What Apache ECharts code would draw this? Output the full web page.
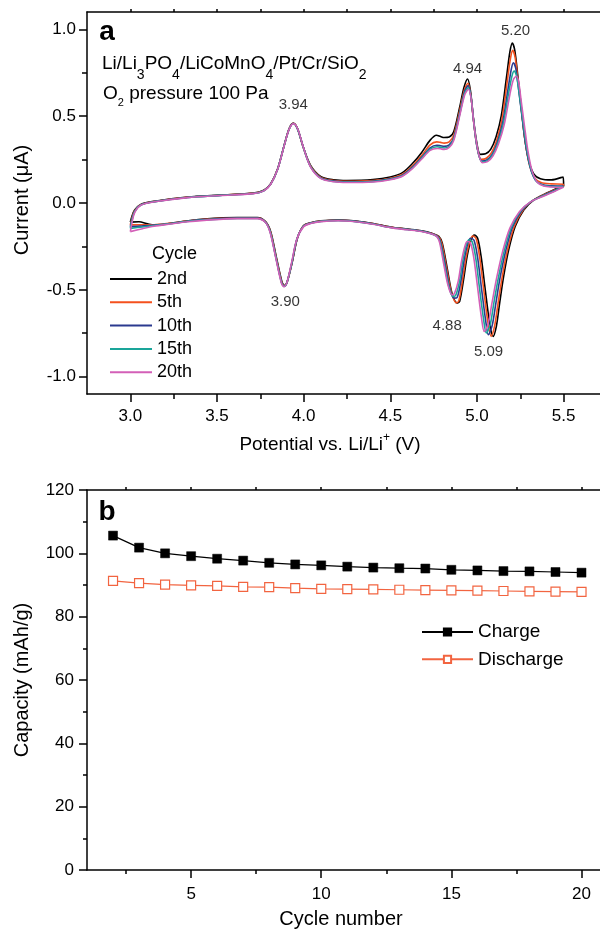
<!DOCTYPE html>
<html>
<head>
<meta charset="utf-8">
<script src="https://cdn.jsdelivr.net/npm/echarts@6/dist/echarts.min.js"></script>
<style>
  html, body { margin: 0; padding: 0; background: #fff; }
  #chart { width: 600px; height: 933px; }
</style>
</head>
<body>
<div id="chart"></div>
<script>
// ---- Panel a: cyclic voltammograms, [potential V, current µA] ----
const cycleNames = ['2nd', '5th', '10th', '15th', '20th'];
const cycleColors = ['#000000', '#f4511e', '#2b3a8f', '#1aa59a', '#d35fb7'];

const anodic2nd = [[3.00,-0.110],[3.01,-0.075],[3.025,-0.040],[3.06,-0.008],[3.14,0.010],[3.33,0.034],[3.52,0.046],[3.71,0.057],[3.77,0.073],[3.81,0.111],[3.85,0.197],[3.887,0.330],[3.916,0.427],[3.94,0.460],[3.965,0.427],[3.995,0.330],[4.04,0.217],[4.10,0.152],[4.175,0.134],[4.25,0.130],[4.40,0.135],[4.50,0.150],[4.57,0.175],[4.63,0.230],[4.68,0.290],[4.73,0.362],[4.766,0.390],[4.79,0.383],[4.81,0.377],[4.84,0.380],[4.866,0.410],[4.90,0.550],[4.925,0.665],[4.946,0.714],[4.962,0.650],[4.976,0.520],[4.996,0.365],[5.02,0.280],[5.05,0.283],[5.08,0.310],[5.11,0.380],[5.14,0.500],[5.17,0.720],[5.19,0.870],[5.204,0.921],[5.218,0.880],[5.235,0.740],[5.255,0.560],[5.275,0.380],[5.30,0.240],[5.33,0.165],[5.366,0.140],[5.43,0.133],[5.497,0.150]];
const cathodic2nd = [[5.50,0.100],[5.45,0.080],[5.40,0.056],[5.327,0.017],[5.27,-0.040],[5.22,-0.136],[5.183,-0.270],[5.154,-0.423],[5.131,-0.576],[5.112,-0.710],[5.093,-0.768],[5.073,-0.690],[5.048,-0.500],[5.024,-0.308],[5.004,-0.203],[4.985,-0.184],[4.966,-0.213],[4.943,-0.308],[4.923,-0.440],[4.900,-0.567],[4.885,-0.576],[4.856,-0.520],[4.830,-0.385],[4.800,-0.232],[4.780,-0.192],[4.74,-0.175],[4.68,-0.160],[4.60,-0.150],[4.50,-0.138],[4.40,-0.118],[4.30,-0.104],[4.20,-0.098],[4.10,-0.103],[4.04,-0.114],[4.00,-0.130],[3.964,-0.203],[3.935,-0.337],[3.906,-0.452],[3.890,-0.475],[3.875,-0.455],[3.840,-0.300],[3.810,-0.165],[3.780,-0.107],[3.733,-0.084],[3.617,-0.084],[3.425,-0.092],[3.33,-0.103],[3.233,-0.117],[3.15,-0.128],[3.10,-0.120],[3.05,-0.108],[3.00,-0.110]];

const anodic5th = [[3.00,-0.126],[3.01,-0.085],[3.025,-0.045],[3.06,-0.010],[3.14,0.009],[3.33,0.033],[3.52,0.045],[3.71,0.056],[3.77,0.072],[3.81,0.110],[3.85,0.196],[3.887,0.329],[3.916,0.426],[3.941,0.459],[3.966,0.425],[3.996,0.327],[4.04,0.213],[4.10,0.147],[4.175,0.129],[4.25,0.125],[4.40,0.129],[4.50,0.143],[4.57,0.166],[4.63,0.216],[4.68,0.272],[4.73,0.335],[4.768,0.352],[4.79,0.349],[4.81,0.345],[4.84,0.352],[4.866,0.390],[4.90,0.530],[4.927,0.650],[4.948,0.690],[4.964,0.625],[4.978,0.495],[4.998,0.340],[5.024,0.252],[5.054,0.258],[5.084,0.290],[5.114,0.360],[5.145,0.485],[5.174,0.695],[5.193,0.830],[5.206,0.879],[5.220,0.840],[5.237,0.705],[5.257,0.530],[5.278,0.355],[5.303,0.220],[5.333,0.145],[5.37,0.118],[5.43,0.110],[5.497,0.108]];
const cathodic5th = [[5.50,0.098],[5.45,0.077],[5.398,0.053],[5.323,0.015],[5.265,-0.042],[5.214,-0.138],[5.176,-0.272],[5.146,-0.424],[5.122,-0.577],[5.102,-0.708],[5.082,-0.768],[5.063,-0.686],[5.039,-0.497],[5.015,-0.308],[4.996,-0.207],[4.977,-0.190],[4.959,-0.220],[4.937,-0.314],[4.917,-0.442],[4.895,-0.565],[4.880,-0.574],[4.852,-0.512],[4.826,-0.380],[4.797,-0.232],[4.778,-0.193],[4.74,-0.176],[4.68,-0.161],[4.60,-0.151],[4.50,-0.139],[4.40,-0.119],[4.30,-0.105],[4.20,-0.099],[4.10,-0.104],[4.04,-0.115],[4.00,-0.131],[3.963,-0.205],[3.934,-0.339],[3.905,-0.454],[3.889,-0.477],[3.874,-0.457],[3.839,-0.302],[3.809,-0.166],[3.78,-0.108],[3.733,-0.085],[3.617,-0.085],[3.425,-0.094],[3.33,-0.104],[3.233,-0.116],[3.137,-0.125],[3.07,-0.125],[3.00,-0.126]];

const anodic10th = [[3.00,-0.136],[3.01,-0.092],[3.025,-0.048],[3.06,-0.011],[3.14,0.008],[3.33,0.032],[3.52,0.044],[3.71,0.055],[3.77,0.071],[3.81,0.109],[3.85,0.195],[3.887,0.328],[3.916,0.425],[3.941,0.458],[3.966,0.424],[3.997,0.325],[4.04,0.210],[4.10,0.144],[4.175,0.126],[4.25,0.122],[4.40,0.125],[4.50,0.139],[4.57,0.160],[4.63,0.208],[4.68,0.262],[4.73,0.318],[4.769,0.333],[4.79,0.330],[4.81,0.326],[4.84,0.335],[4.866,0.375],[4.90,0.515],[4.928,0.640],[4.949,0.676],[4.966,0.610],[4.980,0.480],[5.000,0.325],[5.027,0.242],[5.057,0.248],[5.088,0.280],[5.118,0.350],[5.150,0.470],[5.180,0.660],[5.198,0.770],[5.210,0.808],[5.224,0.775],[5.241,0.650],[5.261,0.490],[5.282,0.330],[5.307,0.205],[5.337,0.132],[5.375,0.106],[5.43,0.099],[5.497,0.097]];
const cathodic10th = [[5.50,0.095],[5.45,0.074],[5.395,0.049],[5.317,0.011],[5.258,-0.045],[5.205,-0.140],[5.166,-0.275],[5.134,-0.427],[5.109,-0.578],[5.088,-0.705],[5.066,-0.759],[5.050,-0.675],[5.026,-0.490],[5.003,-0.309],[4.983,-0.215],[4.964,-0.203],[4.948,-0.231],[4.927,-0.324],[4.908,-0.445],[4.885,-0.545],[4.868,-0.548],[4.844,-0.495],[4.820,-0.372],[4.792,-0.231],[4.775,-0.194],[4.74,-0.177],[4.68,-0.162],[4.60,-0.152],[4.50,-0.140],[4.40,-0.120],[4.30,-0.106],[4.20,-0.100],[4.10,-0.105],[4.04,-0.116],[4.00,-0.133],[3.962,-0.207],[3.933,-0.341],[3.904,-0.456],[3.888,-0.479],[3.873,-0.459],[3.838,-0.304],[3.808,-0.168],[3.78,-0.110],[3.733,-0.087],[3.617,-0.087],[3.425,-0.096],[3.33,-0.105],[3.233,-0.118],[3.137,-0.127],[3.07,-0.132],[3.00,-0.136]];

const anodic15th = [[3.00,-0.146],[3.01,-0.098],[3.025,-0.050],[3.06,-0.012],[3.14,0.008],[3.33,0.032],[3.52,0.044],[3.71,0.055],[3.77,0.071],[3.81,0.109],[3.85,0.195],[3.887,0.328],[3.916,0.425],[3.941,0.458],[3.966,0.424],[3.997,0.324],[4.04,0.209],[4.10,0.142],[4.175,0.124],[4.25,0.120],[4.40,0.123],[4.50,0.137],[4.57,0.157],[4.63,0.204],[4.68,0.257],[4.73,0.310],[4.770,0.324],[4.79,0.321],[4.81,0.317],[4.84,0.327],[4.866,0.368],[4.90,0.508],[4.929,0.632],[4.950,0.665],[4.967,0.600],[4.981,0.470],[5.002,0.318],[5.029,0.237],[5.059,0.243],[5.090,0.275],[5.121,0.345],[5.153,0.460],[5.184,0.640],[5.203,0.735],[5.215,0.760],[5.229,0.730],[5.246,0.615],[5.266,0.465],[5.287,0.315],[5.312,0.195],[5.342,0.126],[5.38,0.102],[5.43,0.095],[5.497,0.094]];
const cathodic15th = [[5.50,0.092],[5.45,0.071],[5.393,0.046],[5.312,0.008],[5.251,-0.048],[5.197,-0.143],[5.157,-0.278],[5.124,-0.429],[5.097,-0.579],[5.076,-0.702],[5.054,-0.749],[5.038,-0.668],[5.014,-0.485],[4.992,-0.310],[4.972,-0.222],[4.954,-0.212],[4.939,-0.241],[4.918,-0.332],[4.900,-0.448],[4.877,-0.533],[4.862,-0.538],[4.838,-0.482],[4.815,-0.366],[4.789,-0.231],[4.772,-0.195],[4.74,-0.178],[4.68,-0.163],[4.60,-0.153],[4.50,-0.141],[4.40,-0.121],[4.30,-0.107],[4.20,-0.101],[4.10,-0.106],[4.04,-0.117],[4.00,-0.134],[3.961,-0.208],[3.932,-0.343],[3.904,-0.458],[3.888,-0.481],[3.873,-0.461],[3.838,-0.305],[3.808,-0.170],[3.78,-0.111],[3.733,-0.089],[3.617,-0.089],[3.425,-0.098],[3.33,-0.106],[3.233,-0.119],[3.137,-0.130],[3.07,-0.138],[3.00,-0.146]];

const anodic20th = [[3.00,-0.165],[3.01,-0.110],[3.025,-0.055],[3.06,-0.013],[3.14,0.007],[3.33,0.031],[3.52,0.043],[3.71,0.054],[3.77,0.070],[3.81,0.108],[3.85,0.194],[3.887,0.327],[3.916,0.424],[3.942,0.457],[3.967,0.423],[3.998,0.322],[4.04,0.207],[4.10,0.140],[4.175,0.122],[4.25,0.118],[4.40,0.121],[4.50,0.134],[4.57,0.154],[4.63,0.200],[4.68,0.252],[4.73,0.303],[4.771,0.314],[4.79,0.312],[4.81,0.308],[4.84,0.320],[4.866,0.360],[4.90,0.500],[4.930,0.625],[4.951,0.655],[4.968,0.590],[4.982,0.460],[5.004,0.310],[5.031,0.232],[5.061,0.238],[5.092,0.270],[5.124,0.340],[5.157,0.450],[5.190,0.625],[5.210,0.710],[5.227,0.730],[5.240,0.700],[5.255,0.590],[5.274,0.445],[5.294,0.300],[5.318,0.185],[5.348,0.120],[5.385,0.098],[5.43,0.092],[5.497,0.090]];
const cathodic20th = [[5.50,0.090],[5.45,0.068],[5.39,0.042],[5.307,0.005],[5.245,-0.050],[5.19,-0.145],[5.148,-0.280],[5.114,-0.430],[5.086,-0.580],[5.064,-0.700],[5.042,-0.740],[5.026,-0.660],[5.003,-0.480],[4.981,-0.310],[4.962,-0.228],[4.944,-0.222],[4.930,-0.250],[4.910,-0.340],[4.892,-0.450],[4.870,-0.522],[4.856,-0.529],[4.832,-0.470],[4.810,-0.360],[4.785,-0.230],[4.770,-0.195],[4.74,-0.179],[4.68,-0.164],[4.60,-0.154],[4.50,-0.142],[4.40,-0.122],[4.30,-0.108],[4.20,-0.102],[4.10,-0.107],[4.04,-0.118],[4.00,-0.136],[3.960,-0.210],[3.930,-0.345],[3.903,-0.460],[3.887,-0.482],[3.872,-0.462],[3.837,-0.306],[3.807,-0.171],[3.78,-0.112],[3.733,-0.090],[3.617,-0.090],[3.425,-0.100],[3.33,-0.108],[3.233,-0.121],[3.137,-0.134],[3.07,-0.148],[3.00,-0.165]];

// Peak potentials and the current level where each value is written
const peakPotentials = [3.94, 4.94, 5.20, 3.90, 4.88, 5.09];
const peakLabelCurrents = [0.563, 0.772, 0.993, -0.567, -0.707, -0.860];
const peakLabelShift = [0, 1, 4, -1, -9, -4];

// Axis ticks of panel a
const potentialMajorTicks = [3.0, 3.5, 4.0, 4.5, 5.0, 5.5];
const potentialMinorTicks = [3.25, 3.75, 4.25, 4.75, 5.25];
const currentMajorTicks = [-1.0, -0.5, 0.0, 0.5, 1.0];
const currentMinorTicks = [-0.75, -0.25, 0.25, 0.75];

// ---- Panel b: capacity vs. cycle number ----
const cycleNumbers = [2,3,4,5,6,7,8,9,10,11,12,13,14,15,16,17,18,19,20];
const chargeCapacity = [105.6,101.8,100.0,99.1,98.3,97.7,97.0,96.5,96.2,95.8,95.5,95.3,95.2,94.8,94.6,94.4,94.3,94.1,93.9];
const dischargeCapacity = [91.3,90.6,90.1,89.9,89.7,89.4,89.3,89.0,88.8,88.7,88.6,88.5,88.4,88.3,88.2,88.1,88.0,87.9,87.8];
const cycleMajorTicks = [5, 10, 15, 20];
const cycleMinorTicks = [2.5, 7.5, 12.5, 17.5];

const FONT = '"Liberation Sans", Arial, Helvetica, sans-serif';
const AX = { color: '#000', width: 1.5 };

// Both panels run off the right edge of the page; the visible axis range ends there.
const potentialRange = [2.75, 5.71];
const cycleRange = [1, 20.71];

const cvBranches = [
  [anodic2nd, cathodic2nd],
  [anodic5th, cathodic5th],
  [anodic10th, cathodic10th],
  [anodic15th, cathodic15th],
  [anodic20th, cathodic20th]
];

const cvSeries = cycleNames.map((name, i) => ({
  name: name,
  type: 'line',
  xAxisIndex: 0,
  yAxisIndex: 0,
  data: cvBranches[i][0].concat(cvBranches[i][1]),
  smooth: 0.3,
  symbol: 'none',
  lineStyle: { color: cycleColors[i], width: 1.6 },
  itemStyle: { color: cycleColors[i] },
  z: 2 + i
}));

const peakSeries = {
  type: 'scatter',
  xAxisIndex: 0,
  yAxisIndex: 0,
  silent: true,
  symbolSize: 0,
  data: peakPotentials.map((v, i) => ({
    value: [v, peakLabelCurrents[i]],
    label: { offset: [peakLabelShift[i], 0] }
  })),
  label: {
    show: true,
    position: 'inside',
    formatter: p => p.value[0].toFixed(2),
    fontSize: 15,
    color: '#000',
    fontFamily: FONT
  },
  z: 10
};

function tickAxis(extra) {
  return Object.assign({
    type: 'value',
    axisLine: { show: false, onZero: false },
    axisTick: { show: true, lineStyle: AX },
    axisLabel: { show: false },
    splitLine: { show: false }
  }, extra);
}

const option = {
  animation: false,
  backgroundColor: '#fff',
  textStyle: { fontFamily: FONT, color: '#000' },
  grid: [
    { left: 87, top: 12, width: 513, height: 382 },
    { left: 87, top: 490, width: 513, height: 380 }
  ],
  xAxis: [
    // panel a, bottom: major ticks with labels
    tickAxis({
      gridIndex: 0, min: potentialRange[0], max: potentialRange[1], position: 'bottom',
      axisLine: { show: true, onZero: false, lineStyle: AX },
      axisTick: { show: true, length: 8, lineStyle: AX, customValues: potentialMajorTicks },
      axisLabel: { show: true, customValues: potentialMajorTicks, formatter: v => v.toFixed(1),
                   fontSize: 17, color: '#000', margin: 14, fontFamily: FONT }
    }),
    // panel a, bottom: minor ticks
    tickAxis({
      gridIndex: 0, min: potentialRange[0], max: potentialRange[1], position: 'bottom',
      axisTick: { show: true, length: 5, lineStyle: AX, customValues: potentialMinorTicks }
    }),
    // panel a, top frame
    tickAxis({
      gridIndex: 0, min: potentialRange[0], max: potentialRange[1], position: 'top',
      axisLine: { show: true, onZero: false, lineStyle: AX },
      axisTick: { show: true, length: 3, lineStyle: AX,
                  customValues: potentialMajorTicks.concat(potentialMinorTicks) }
    }),
    // panel b, bottom: major ticks with labels
    tickAxis({
      gridIndex: 1, min: cycleRange[0], max: cycleRange[1], position: 'bottom',
      axisLine: { show: true, onZero: false, lineStyle: AX },
      axisTick: { show: true, length: 8, lineStyle: AX, customValues: cycleMajorTicks },
      axisLabel: { show: true, customValues: cycleMajorTicks, fontSize: 17, color: '#000',
                   margin: 16, fontFamily: FONT }
    }),
    // panel b, bottom: minor ticks
    tickAxis({
      gridIndex: 1, min: cycleRange[0], max: cycleRange[1], position: 'bottom',
      axisTick: { show: true, length: 4, lineStyle: AX, customValues: cycleMinorTicks }
    }),
    // panel b, top frame
    tickAxis({
      gridIndex: 1, min: cycleRange[0], max: cycleRange[1], position: 'top',
      axisLine: { show: true, onZero: false, lineStyle: AX },
      axisTick: { show: true, length: 3, lineStyle: AX,
                  customValues: cycleMajorTicks.concat(cycleMinorTicks) }
    })
  ],
  yAxis: [
    tickAxis({
      gridIndex: 0, min: -1.1, max: 1.1, position: 'left',
      axisLine: { show: true, onZero: false, lineStyle: AX },
      axisTick: { show: true, length: 8, lineStyle: AX, customValues: currentMajorTicks },
      axisLabel: { show: true, customValues: currentMajorTicks, formatter: v => v.toFixed(1),
                   fontSize: 17, color: '#000', margin: 11, fontFamily: FONT }
    }),
    tickAxis({
      gridIndex: 0, min: -1.1, max: 1.1, position: 'left',
      axisTick: { show: true, length: 5, lineStyle: AX, customValues: currentMinorTicks }
    }),
    {
      type: 'value', gridIndex: 1, min: 0, max: 120, interval: 20, position: 'left',
      axisLine: { show: true, onZero: false, lineStyle: AX },
      axisTick: { show: true, length: 8, lineStyle: AX },
      minorTick: { show: true, splitNumber: 2, length: 4, lineStyle: AX },
      axisLabel: { fontSize: 17, color: '#000', margin: 13, fontFamily: FONT },
      splitLine: { show: false }
    }
  ],
  legend: [
    {
      data: cycleNames,
      orient: 'vertical',
      left: 110, top: 270,
      padding: 0,
      icon: 'rect',
      itemWidth: 42, itemHeight: 2, itemGap: 5.3,
      selectedMode: false,
      textStyle: { fontSize: 18, lineHeight: 18, color: '#000', fontFamily: FONT }
    },
    {
      data: ['Charge', 'Discharge'],
      orient: 'vertical',
      left: 421, top: 622,
      padding: 0,
      itemWidth: 51, itemHeight: 9, itemGap: 7.3,
      selectedMode: false,
      textStyle: { fontSize: 19, lineHeight: 20, color: '#000', fontFamily: FONT }
    }
  ],
  series: cvSeries.concat([
    peakSeries,
    {
      name: 'Charge',
      type: 'line',
      xAxisIndex: 3,
      yAxisIndex: 2,
      data: cycleNumbers.map((c, i) => [c, chargeCapacity[i]]),
      symbol: 'rect',
      symbolSize: 9,
      lineStyle: { color: '#000', width: 1.2 },
      itemStyle: { color: '#000', borderColor: '#000', borderWidth: 0.5 }
    },
    {
      name: 'Discharge',
      type: 'line',
      xAxisIndex: 3,
      yAxisIndex: 2,
      data: cycleNumbers.map((c, i) => [c, dischargeCapacity[i]]),
      symbol: 'rect',
      symbolSize: 9,
      lineStyle: { color: '#f26440', width: 1.2 },
      itemStyle: { color: '#ffffff', borderColor: '#f26440', borderWidth: 1.2 }
    }
  ]),
  graphic: [
    { type: 'text', x: 107, y: 32, style: { text: 'a', font: 'bold 28px ' + FONT, fill: '#000', align: 'center', verticalAlign: 'middle' } },
    { type: 'text', x: 107, y: 512, style: { text: 'b', font: 'bold 28px ' + FONT, fill: '#000', align: 'center', verticalAlign: 'middle' } },
    {
      type: 'text', x: 102, y: 54,
      style: {
        text: '{n|Li/Li}{s|3}{n|PO}{s|4}{n|/LiCoMnO}{s|4}{n|/Pt/Cr/SiO}{s|2}',
        align: 'left', verticalAlign: 'top',
        rich: {
          n: { fontSize: 19, lineHeight: 28.5, verticalAlign: 'top', fill: '#000', fontFamily: FONT },
          s: { fontSize: 14, lineHeight: 14, verticalAlign: 'bottom', fill: '#000', fontFamily: FONT }
        }
      }
    },
    {
      type: 'text', x: 103, y: 84,
      style: {
        text: '{n|O}{s|2}{n| pressure 100 Pa}',
        align: 'left', verticalAlign: 'top',
        rich: {
          n: { fontSize: 19, lineHeight: 24.5, verticalAlign: 'top', fill: '#000', fontFamily: FONT },
          s: { fontSize: 11, lineHeight: 11, verticalAlign: 'bottom', fill: '#000', fontFamily: FONT }
        }
      }
    },
    { type: 'text', x: 152, y: 254, style: { text: 'Cycle', fontSize: 18, fontFamily: FONT, fill: '#000', align: 'left', verticalAlign: 'middle' } },
    {
      type: 'text', x: 330, y: 443,
      style: {
        text: '{n|Potential vs. Li/Li}{p|+}{n| (V)}',
        align: 'center', verticalAlign: 'middle',
        rich: {
          n: { fontSize: 19, lineHeight: 22, verticalAlign: 'bottom', fill: '#000', fontFamily: FONT },
          p: { fontSize: 12, lineHeight: 12, verticalAlign: 'top', fill: '#000', fontFamily: FONT }
        }
      }
    },
    { type: 'text', x: 22, y: 200, rotation: Math.PI / 2, style: { text: 'Current (\u03bcA)', fontSize: 20, fontFamily: FONT, fill: '#000', align: 'center', verticalAlign: 'middle' } },
    { type: 'text', x: 22, y: 680, rotation: Math.PI / 2, style: { text: 'Capacity (mAh/g)', fontSize: 20, fontFamily: FONT, fill: '#000', align: 'center', verticalAlign: 'middle' } },
    { type: 'text', x: 341, y: 919, style: { text: 'Cycle number', fontSize: 20, fontFamily: FONT, fill: '#000', align: 'center', verticalAlign: 'middle' } }
  ]
};

const chart = echarts.init(document.getElementById('chart'), null, { renderer: 'canvas' });
chart.setOption(option);
</script>
</body>
</html>
